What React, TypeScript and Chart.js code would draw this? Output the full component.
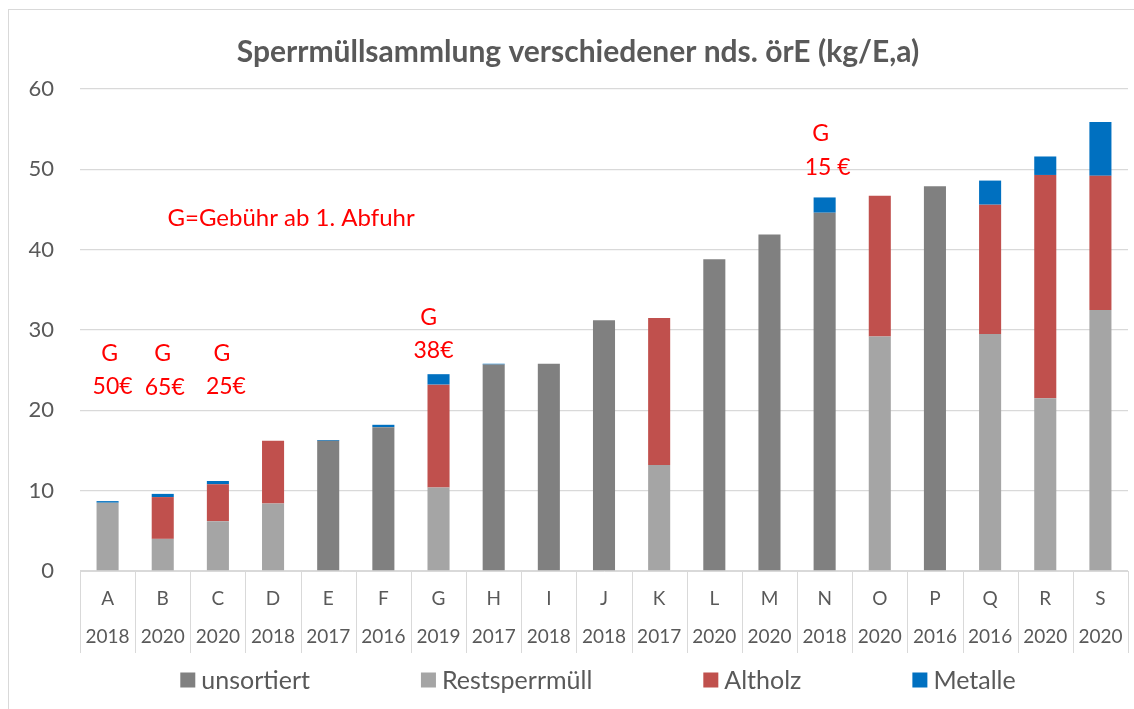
import React, { useEffect, useRef } from "react";
import { Chart, registerables } from "chart.js";

Chart.register(...registerables);

const categories = ["A", "B", "C", "D", "E", "F", "G", "H", "I", "J", "K", "L", "M", "N", "O", "P", "Q", "R", "S"];
const years = ["2018", "2020", "2020", "2018", "2017", "2016", "2019", "2017", "2018", "2018", "2017", "2020", "2020", "2018", "2020", "2016", "2016", "2020", "2020"];

const unsortiert = [null, null, null, null, 16.2, 17.9, null, 25.7, 25.8, 31.2, null, 38.8, 41.9, 44.6, null, 47.9, null, null, null];
const restsperrmuell = [8.5, 4.0, 6.2, 8.4, null, null, 10.4, null, null, null, 13.2, null, null, null, 29.2, null, 29.5, 21.5, 32.5];
const altholz = [null, 5.2, 4.6, 7.8, null, null, 12.8, null, null, null, 18.3, null, null, null, 17.5, null, 16.1, 27.8, 16.7];
const metalle = [0.2, 0.4, 0.4, null, 0.1, 0.3, 1.3, 0.1, null, null, null, null, null, 1.9, null, null, 3.0, 2.3, 6.7];

const seriesNames = ["unsortiert", "Restsperrmüll", "Altholz", "Metalle"];
const seriesColors = ["#808080", "#A5A5A5", "#C0504D", "#0070C0"];

const yTicks = [0, 10, 20, 30, 40, 50, 60];

// fee annotations: category index, text lines, y-value of each line
const feeCats = [0, 1, 2, 6, 13];
const feeTexts = [["G", "50€"], ["G", "65€"], ["G", "25€"], ["G", "38€"], ["G", "15 €"]];
const feeLevels = [[27.1, 23.0], [27.1, 22.8], [27.1, 23.0], [31.5, 27.4], [54.4, 50.2]];
const feeNote = "G=Gebühr ab 1. Abfuhr";

const FONT = "Lato, 'Noto Sans', sans-serif";
const TEXT = "#595959";
const GRID = "#D9D9D9";

const annotationPlugin = {
  id: "feeAnnotations",
  afterDatasetsDraw(chart: any) {
    const { ctx, scales } = chart;
    const xs = scales.x;
    const ys = scales.y;
    ctx.save();
    ctx.fillStyle = "#FF0000";
    ctx.textAlign = "center";
    ctx.textBaseline = "middle";
    ctx.font = `23px ${FONT}`;
    const dxs = [[2, 5], [0, 2], [4, 8], [-10, -5], [-4, 3]];
    feeCats.forEach((c, i) => {
      const x = xs.getPixelForValue(c);
      feeTexts[i].forEach((t, j) => {
        ctx.fillText(t, x + dxs[i][j], ys.getPixelForValue(feeLevels[i][j]));
      });
    });
    ctx.font = `24px ${FONT}`;
    ctx.fillText(feeNote, xs.getPixelForValue(3) + 18, ys.getPixelForValue(43.9));
    ctx.restore();
  },
};

const separatorPlugin = {
  id: "categorySeparators",
  afterDraw(chart: any) {
    const { ctx, chartArea, scales } = chart;
    const xs = scales.x;
    const n = categories.length;
    ctx.save();
    ctx.strokeStyle = GRID;
    ctx.lineWidth = 1;
    ctx.beginPath();
    for (let i = 0; i <= n; i++) {
      const x = Math.round(xs.getPixelForValue(i - 0.5)) + 0.5;
      ctx.moveTo(x, chartArea.bottom);
      ctx.lineTo(x, chartArea.bottom + 82);
    }
    ctx.stroke();
    ctx.restore();
  },
};

const legendPlugin = {
  id: "customLegend",
  afterDraw(chart: any) {
    const { ctx, chartArea } = chart;
    ctx.save();
    ctx.font = `25px ${FONT}`;
    const box = 15;
    const gapBox = 6;
    const gapItem = 111;
    const widths = seriesNames.map((n) => box + gapBox + ctx.measureText(n).width);
    const total = widths.reduce((a, b) => a + b, 0) + gapItem * (seriesNames.length - 1);
    let x = (chartArea.left + chartArea.right) / 2 - 6 - total / 2;
    const y = 670;
    ctx.textBaseline = "middle";
    ctx.textAlign = "left";
    seriesNames.forEach((n, i) => {
      ctx.fillStyle = seriesColors[i];
      ctx.fillRect(x, y - box / 2, box, box);
      ctx.fillStyle = TEXT;
      ctx.fillText(n, x + box + gapBox, y + 1);
      x += widths[i] + gapItem;
    });
    ctx.restore();
  },
};

export default function App() {
  const canvasRef = useRef<HTMLCanvasElement | null>(null);

  useEffect(() => {
    if (!canvasRef.current) return;
    const series = [unsortiert, restsperrmuell, altholz, metalle];
    const chart = new Chart(canvasRef.current, {
      type: "bar",
      data: {
        labels: categories.map((c, i) => [c, years[i]]),
        datasets: series.map((d, i) => ({
          label: seriesNames[i],
          data: d,
          backgroundColor: seriesColors[i],
          borderWidth: 0,
          categoryPercentage: 1,
          barPercentage: 0.4,
        })),
      },
      options: {
        animation: false,
        responsive: false,
        maintainAspectRatio: false,
        layout: { padding: { left: 19, right: 6, top: 0, bottom: 52 } },
        plugins: {
          legend: { display: false },
          tooltip: { enabled: false },
          title: {
            display: true,
            text: "Sperrmüllsammlung verschiedener nds. örE (kg/E,a)",
            color: TEXT,
            font: { family: FONT, size: 30, weight: "bold", lineHeight: 1.2 },
            padding: { top: 24, bottom: 19 },
          },
        },
        scales: {
          x: {
            stacked: true,
            grid: { display: false },
            border: { display: true, color: GRID, width: 1 },
            ticks: {
              color: TEXT,
              font: { family: FONT, size: 19, lineHeight: 2 },
              padding: 1,
              maxRotation: 0,
              minRotation: 0,
              autoSkip: false,
            },
          },
          y: {
            stacked: true,
            min: 0,
            max: 60,
            afterBuildTicks: (scale: any) => {
              scale.ticks = yTicks.map((v) => ({ value: v }));
            },
            afterFit: (scale: any) => {
              scale.width = 52;
            },
            grid: { color: GRID, lineWidth: 1.3, drawTicks: false },
            border: { display: false },
            ticks: {
              color: TEXT,
              font: { family: FONT, size: 22 },
              padding: 26,
            },
          },
        },
      },
      plugins: [annotationPlugin, separatorPlugin, legendPlugin],
    });
    return () => chart.destroy();
  }, []);

  return (
    <div
      style={{
        position: "fixed",
        left: 8,
        top: 9,
        width: 1126,
        height: 700,
        boxSizing: "border-box",
        borderLeft: "1px solid #D9D9D9",
        borderTop: "1px solid #D9D9D9",
        background: "#fff",
      }}
    >
      <canvas ref={canvasRef} width={1125} height={699} style={{ display: "block" }} />
    </div>
  );
}
